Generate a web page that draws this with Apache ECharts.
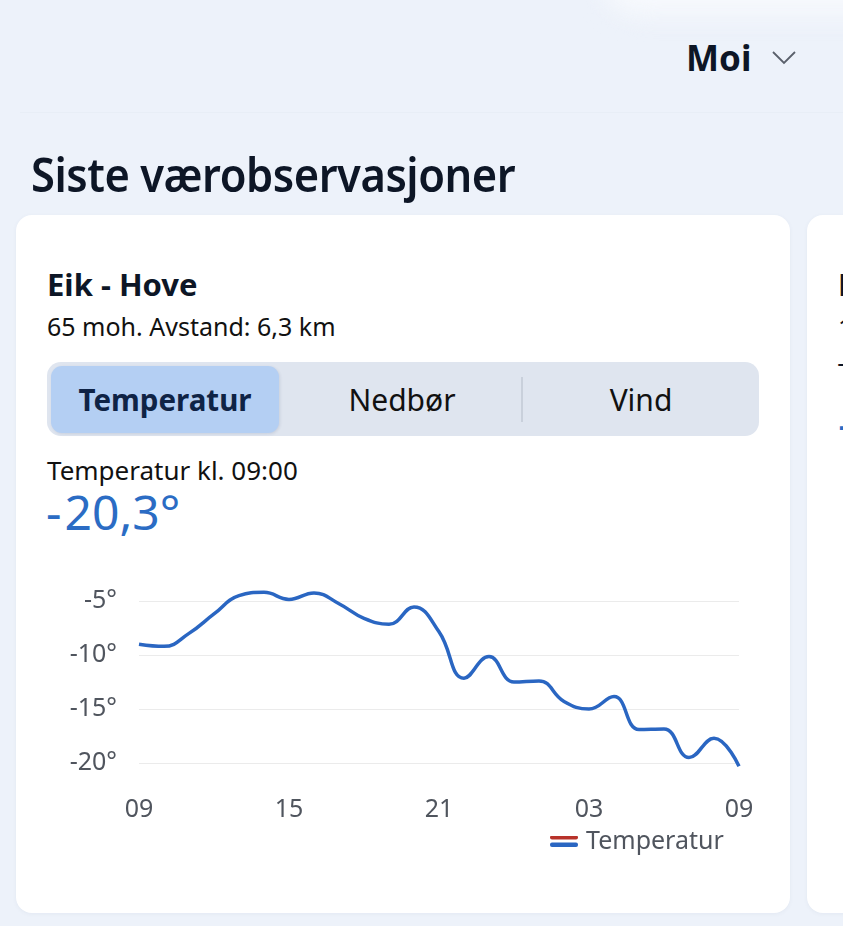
<!DOCTYPE html>
<html>
<head>
<meta charset="utf-8">
<script src="https://cdn.jsdelivr.net/npm/echarts@6/dist/echarts.min.js"></script>
<style>
  html, body { margin: 0; padding: 0; }
  body { width: 843px; height: 926px; overflow: hidden; background: #edf2fa; position: relative; font-family: "Noto Sans", sans-serif; color: #0d1626; }
  .abs { position: absolute; white-space: nowrap; }
  .topglow { position: absolute; left: 600px; top: -70px; width: 320px; height: 85px; background: #f7f9fd; border-radius: 40px; filter: blur(12px); }
  .sep { position: absolute; left: 20px; top: 112px; width: 823px; height: 1px; background: rgba(200,210,225,0.12); }
  .card { position: absolute; top: 215px; height: 698px; background: #fff; border-radius: 16px; box-shadow: 0 1px 4px rgba(60,80,120,0.06); overflow: hidden; }
  .seg { position: absolute; left: 47px; top: 362px; width: 712px; height: 74px; background: #dfe5ef; border-radius: 14px; }
  .pill { position: absolute; left: 51px; top: 366px; width: 228px; height: 67px; background: #b4cff3; border-radius: 11px; box-shadow: 1px 1px 3px rgba(40,60,100,0.12); }
  .div { position: absolute; left: 521px; top: 377px; width: 2px; height: 45px; background: #c9d0db; }
  #chart { position: absolute; left: 0; top: 0; width: 843px; height: 926px; }
</style>
</head>
<body>
<div class="topglow"></div>
<div class="sep"></div>
<div class="abs" style="left:686px; top:33px; font-size:35px; font-weight:700; line-height:50px;">Moi</div>
<svg class="abs" style="left:770px; top:48px;" width="30" height="20"><polyline points="3,4 14,15 25,4" fill="none" stroke="#5a606b" stroke-width="1.8"/></svg>
<div class="abs" style="left:31px; top:142px; font-size:47px; font-weight:600; line-height:64px; transform-origin:0 50%; transform:scaleX(0.925); letter-spacing:-0.5px;">Siste værobservasjoner</div>

<div class="card" style="left:16px; width:774px;"></div>
<div class="card" style="left:807px; width:120px;">
  <div class="abs" style="left:31px; top:50px; font-size:30px; font-weight:700; line-height:40px;">Kjevik</div>
  <div class="abs" style="left:31px; top:95px; font-size:25px; line-height:34px;">12 moh. Avstand: 9,1 km</div>
  <div class="abs" style="left:31px; top:140px; font-size:26px; line-height:34px;">Temperatur kl. 09:00</div>
  <div class="abs" style="left:31px; top:180px; font-size:47px; line-height:56px; color:#2b6cc4;">-19,8°</div>
</div>

<div class="abs" style="left:47px; top:264px; font-size:31px; font-weight:700; line-height:40px;">Eik - Hove</div>
<div class="abs" style="left:47px; top:309px; font-size:25px; line-height:34px; color:#111;">65 moh. Avstand: 6,3 km</div>

<div class="seg"></div>
<div class="pill"></div>
<div class="div"></div>
<div class="abs" style="left:51px; width:228px; top:379px; text-align:center; font-size:29.5px; font-weight:700; line-height:42px; color:#0f2345;">Temperatur</div>
<div class="abs" style="left:283px; width:238px; top:379px; text-align:center; font-size:30px; line-height:42px; color:#111;">Nedbør</div>
<div class="abs" style="left:523px; width:236px; top:379px; text-align:center; font-size:30px; line-height:42px; color:#111;">Vind</div>

<div class="abs" style="left:47px; top:452px; font-size:26px; line-height:36px; color:#111;">Temperatur kl. 09:00</div>
<div class="abs" style="left:46px; top:482px; font-size:48px; line-height:60px; color:#2b6cc4;"><span style="letter-spacing:3px;">-</span>20,3°</div>

<div id="chart"></div>
<script>
// Hours along the x axis (09 to 09 next day)
const hours = ['09','10','11','12','13','14','15','16','17','18','19','20','21','22','23','00','01','02','03','04','05','06','07','08','09'];
// Temperature readings (°C), one per hour
const temps = [-9.0, -9.2, -8.0, -6.2, -4.5, -4.2, -4.85, -4.25, -5.25, -6.6, -7.15, -5.55, -7.85, -12.15, -10.15, -12.5, -12.4, -14.3, -15.0, -13.85, -16.9, -16.85, -19.5, -17.7, -20.3];
const seriesName = 'Temperatur';

const legendSvg = '<svg xmlns="http://www.w3.org/2000/svg" width="28" height="12"><rect x="0" y="0" width="28" height="4" rx="2" fill="#b8322a"/><rect x="0" y="7" width="28" height="4.5" rx="2" fill="#2a66c2"/></svg>';

const chart = echarts.init(document.getElementById('chart'), null, { renderer: 'canvas' });
chart.setOption({
  animation: false,
  backgroundColor: 'transparent',
  textStyle: { fontFamily: 'Noto Sans' },
  grid: { left: 139, right: 104, top: 601, bottom: 163, containLabel: false },
  legend: {
    left: 545, top: 824,
    itemWidth: 28, itemHeight: 12,
    icon: 'image://data:image/svg+xml;utf8,' + encodeURIComponent(legendSvg),
    textStyle: { fontSize: 25, color: '#50555e', fontFamily: 'Noto Sans', padding: [0, 0, 0, 3] },
    data: [seriesName]
  },
  xAxis: {
    type: 'category',
    data: hours,
    boundaryGap: false,
    axisLine: { show: false },
    axisTick: { show: false },
    splitLine: { show: false },
    axisLabel: { interval: 5, color: '#50555e', fontSize: 25, margin: 34, fontFamily: 'Noto Sans' }
  },
  yAxis: {
    type: 'value',
    min: -20, max: -5, interval: 5,
    axisLine: { show: false },
    axisTick: { show: false },
    splitLine: { show: true, lineStyle: { color: '#ebebeb', width: 1 } },
    axisLabel: { color: '#50555e', fontSize: 25, margin: 22, fontFamily: 'Noto Sans', formatter: v => v + '°' }
  },
  series: [{
    name: seriesName,
    type: 'line',
    data: temps,
    smooth: 0.45,
    clip: false,
    showSymbol: false,
    symbol: 'none',
    lineStyle: { color: '#2a66c2', width: 3.5 },
    itemStyle: { color: '#2a66c2' }
  }]
});
</script>
</body>
</html>
